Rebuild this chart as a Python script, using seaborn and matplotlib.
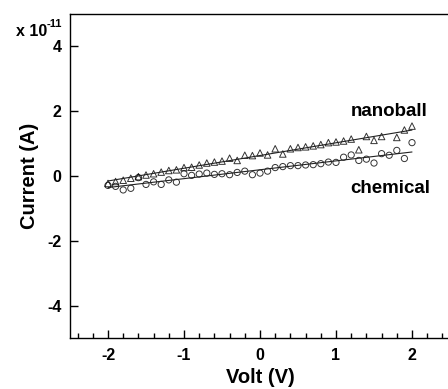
import numpy as np
import pandas as pd
import matplotlib
matplotlib.use('Agg')
import matplotlib.pyplot as plt
from matplotlib.ticker import MultipleLocator
import seaborn as sns

# bias voltage (V)
volt = [-2.0, -1.9, -1.8, -1.7, -1.6, -1.5, -1.4, -1.3, -1.2, -1.1,
        -1.0, -0.9, -0.8, -0.7, -0.6, -0.5, -0.4, -0.3, -0.2, -0.1,
        0.0, 0.1, 0.2, 0.3, 0.4, 0.5, 0.6, 0.7, 0.8, 0.9,
        1.0, 1.1, 1.2, 1.3, 1.4, 1.5, 1.6, 1.7, 1.8, 1.9, 2.0]

# current, in units of 1e-11 A
nanoball = [-0.23, -0.17, -0.13, -0.07, -0.02, 0.03, 0.07, 0.12, 0.17, 0.19,
            0.26, 0.27, 0.34, 0.40, 0.43, 0.46, 0.55, 0.48, 0.64, 0.63,
            0.71, 0.65, 0.84, 0.68, 0.84, 0.88, 0.90, 0.93, 0.97, 1.03,
            1.05, 1.08, 1.14, 0.81, 1.22, 1.10, 1.22, np.nan, 1.19, 1.42, 1.54]
chemical = [-0.29, -0.32, -0.43, -0.38, -0.05, -0.26, -0.18, -0.26, -0.12, -0.19,
            0.07, 0.02, 0.06, 0.09, 0.05, 0.07, 0.04, 0.11, 0.15, 0.04,
            0.09, 0.15, 0.26, 0.29, 0.32, 0.32, 0.34, 0.35, 0.38, 0.43,
            0.42, 0.58, 0.65, 0.48, 0.52, 0.40, 0.69, 0.64, 0.79, 0.54, 1.03]

df = pd.DataFrame({'volt': volt, 'nanoball': nanoball, 'chemical': chemical})

sns.set_style('ticks')
plt.rcParams['font.family'] = ['Liberation Sans', 'DejaVu Sans']
plt.rcParams['font.weight'] = 'bold'
plt.rcParams['axes.unicode_minus'] = False
plt.rcParams['text.color'] = 'black'
plt.rcParams['axes.labelcolor'] = 'black'
plt.rcParams['xtick.color'] = 'black'
plt.rcParams['ytick.color'] = 'black'

fig = plt.figure(figsize=(4.48, 3.89), dpi=100)
ax = fig.add_axes([70 / 448, 51 / 389, 380 / 448, 324 / 389])

sns.regplot(data=df, x='volt', y='nanoball', ax=ax, ci=None, marker='^',
            scatter_kws=dict(facecolors='none', edgecolors='black', s=22, linewidths=0.7),
            line_kws=dict(color='#222222', lw=0.8))
sns.regplot(data=df, x='volt', y='chemical', ax=ax, ci=None, marker='o',
            scatter_kws=dict(facecolors='none', edgecolors='black', s=20, linewidths=0.7),
            line_kws=dict(color='#222222', lw=0.8))

ax.set_xlim(-2.5, 2.5)
ax.set_ylim(-5, 5)
ax.set_xticks([-2, -1, 0, 1, 2])
ax.set_yticks([-4, -2, 0, 2, 4])
ax.xaxis.set_minor_locator(MultipleLocator(0.2))
ax.tick_params(axis='both', which='major', direction='in', length=6, width=1,
               labelsize=11.5, color='black', labelcolor='black')
ax.tick_params(axis='x', which='minor', direction='in', length=3.5, width=1, color='black')
ax.tick_params(axis='x', pad=7)
ax.tick_params(axis='y', pad=6)
for lbl in ax.get_xticklabels() + ax.get_yticklabels():
    lbl.set_fontweight('bold')

for side in ['left', 'bottom', 'top']:
    ax.spines[side].set_linewidth(1.0)
    ax.spines[side].set_color('black')
ax.spines['right'].set_visible(False)

ax.set_xlabel('Volt (V)', fontsize=14.5, fontweight='bold', labelpad=4)
ax.set_ylabel('Current (A)', fontsize=14.5, fontweight='bold', labelpad=6)

ax.text(1.7, 2.0, 'nanoball', fontsize=13.5, fontweight='bold', ha='center', va='center')
ax.text(1.72, -0.38, 'chemical', fontsize=13.5, fontweight='bold', ha='center', va='center')

# scale factor for the current axis
fig.text(47 / 448, 1 - 36 / 389, 'x 10', fontsize=11.5, fontweight='bold',
         ha='right', va='baseline')
fig.text(47 / 448, 1 - 27 / 389, '-11', fontsize=8, fontweight='bold',
         ha='left', va='baseline')

fig.savefig('out.png', dpi=100)
